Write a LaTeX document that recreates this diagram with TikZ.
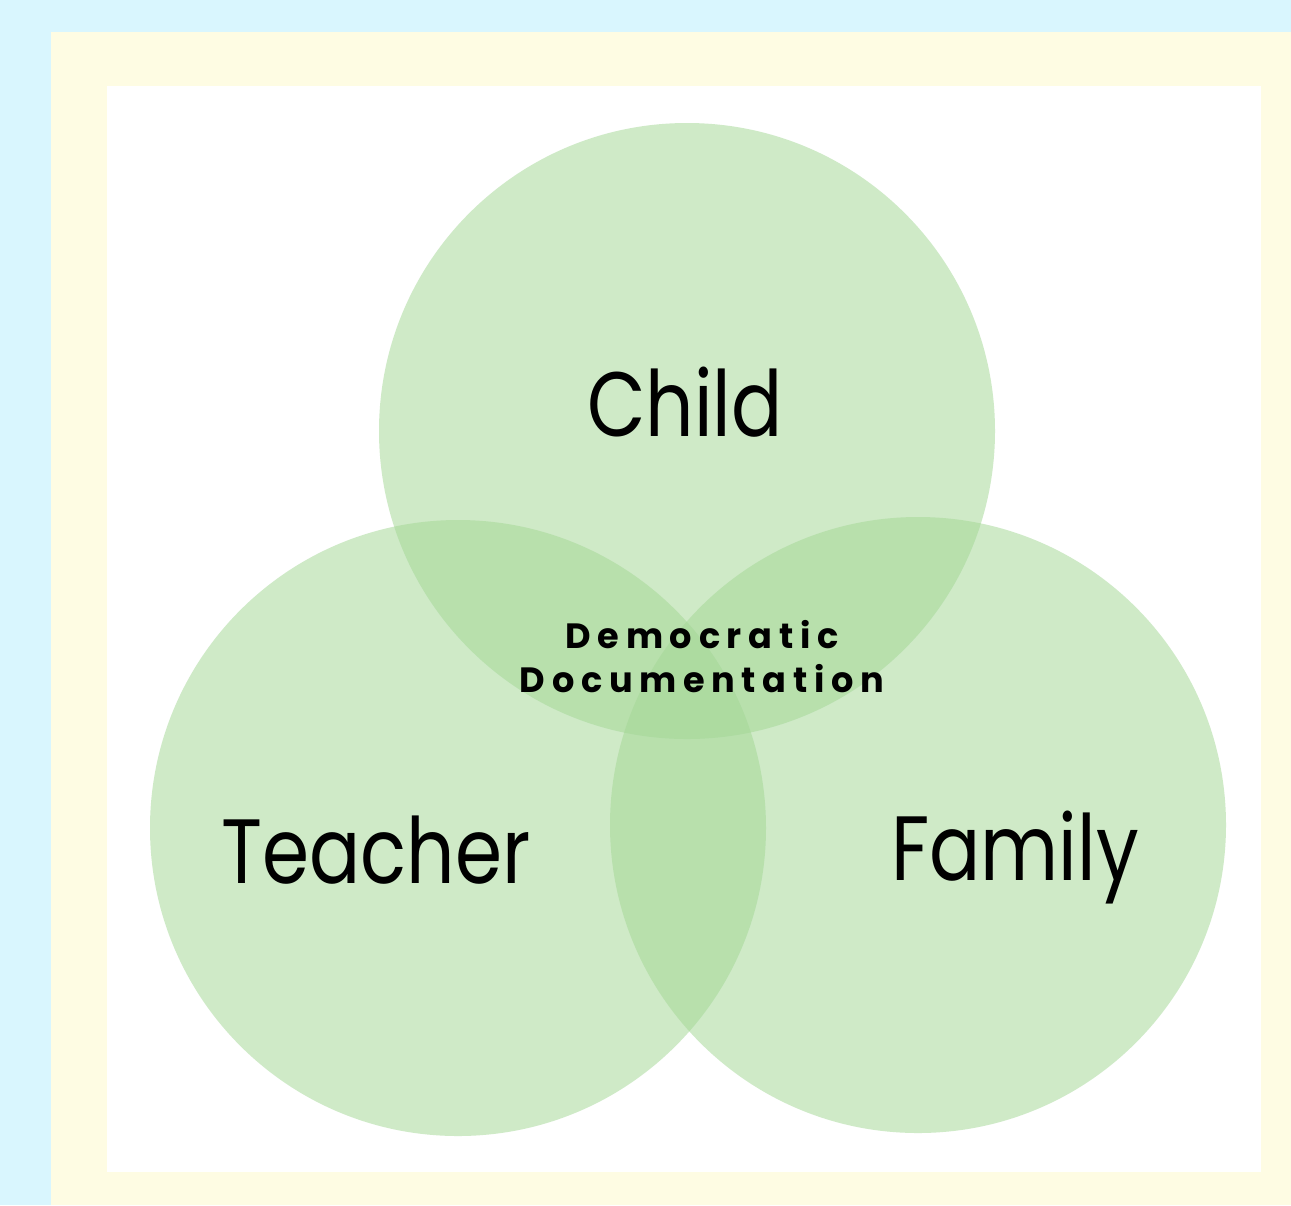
\documentclass[tikz,border=0pt]{standalone}
\usepackage{fontspec}
\setmainfont{Poppins}[BoldFont=* SemiBold, FakeStretch=0.83]
\newfontfamily\centrofont{Poppins}[UprightFont=* Bold, LetterSpace=19]
\definecolor{cielo}{HTML}{D9F6FE}
\definecolor{crema}{HTML}{FEFCE3}
\definecolor{foglia}{RGB}{163,215,149}
\tikzset{
  insieme/.style={fill=foglia, fill opacity=0.52},
  nome/.style={anchor=base, font=\fontsize{52}{58}\selectfont},
}
\begin{document}
\begin{tikzpicture}[x=0.02cm, y=-0.02cm]
% sfondo e cornice
\fill[cielo] (0, 0) rectangle (1291, 1205);
\fill[crema] (51, 32) rectangle (1291, 1205);
\fill[white] (107, 86) rectangle (1261, 1172);
% tre insiemi
\fill[insieme] (687, 431) circle (308);
\fill[insieme] (458, 828) circle (308);
\fill[insieme] (918, 825) circle (308);
% etichette
\node[nome] (child) at (685, 436) {Child};
\node[nome] (teacher) at (376, 883) {Teacher};
\node[nome] (family) at (1015, 880) {Family};
\node[align=center, font=\centrofont\fontsize{20}{25}\selectfont] (centro) at (702, 657)
  {Democratic\\Documentation};
\end{tikzpicture}
\end{document}
